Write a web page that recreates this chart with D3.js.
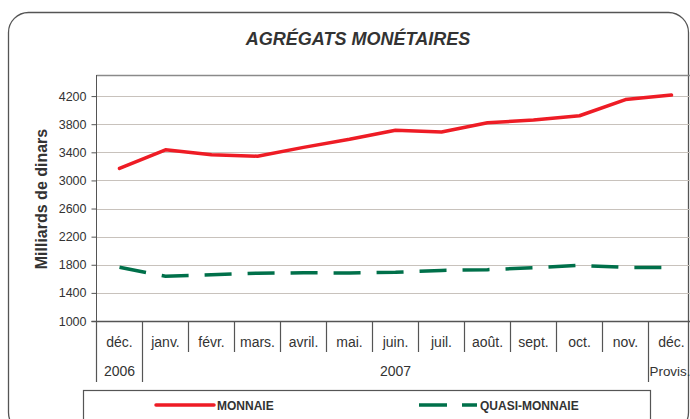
<!DOCTYPE html>
<html>
<head>
<meta charset="utf-8">
<script src="https://cdn.jsdelivr.net/npm/d3@7"></script>
<style>
  body { margin: 0; background: #fff; }
  text { font-family: "Liberation Sans", Arial, sans-serif; }
</style>
</head>
<body>
<div id="chart"></div>
<script>
var months = ["déc.", "janv.", "févr.", "mars.", "avril.", "mai.", "juin.", "juil.", "août.", "sept.", "oct.", "nov.", "déc."];
var years = [
  {label: "2006", from: 0, to: 0},
  {label: "2007", from: 1, to: 11},
  {label: "Provis.", from: 12, to: 12}
];
var monnaie = [3170, 3435, 3365, 3345, 3470, 3585, 3715, 3690, 3820, 3860, 3920, 4150, 4215];
var quasiMonnaie = [1765, 1637, 1657, 1680, 1686, 1684, 1693, 1720, 1730, 1757, 1792, 1762, 1760];
var yTicks = [1000, 1400, 1800, 2200, 2600, 3000, 3400, 3800, 4200];

var width = 690, height = 419;
var svg = d3.select("#chart").append("svg")
    .attr("width", width)
    .attr("height", height);

// rounded frame round the whole chart
svg.append("rect")
    .attr("x", 8.5).attr("y", 12.5)
    .attr("width", 680).attr("height", 420)
    .attr("rx", 20).attr("ry", 20)
    .attr("fill", "none")
    .attr("stroke", "#555")
    .attr("stroke-width", 1.3);

svg.append("text")
    .attr("x", 358).attr("y", 45)
    .attr("text-anchor", "middle")
    .style("font-size", "18px")
    .style("font-weight", "bold")
    .style("font-style", "italic")
    .style("fill", "#333")
    .text("AGRÉGATS MONÉTAIRES");

var plotLeft = 96.5, plotTop = 75, plotBottom = 321;
var x = d3.scaleBand()
    .domain(d3.range(months.length))
    .range([plotLeft, plotLeft + 46 * months.length]);
var y = d3.scaleLinear()
    .domain([1000, 4500])
    .range([plotBottom, plotTop]);

// gridlines
svg.append("g").selectAll("line")
    .data(yTicks.slice(1))
    .enter().append("line")
    .attr("x1", plotLeft).attr("x2", width)
    .attr("y1", function (d) { return Math.round(y(d)) + 0.5; })
    .attr("y2", function (d) { return Math.round(y(d)) + 0.5; })
    .attr("stroke", "#c8c2bc")
    .attr("stroke-width", 1.2);

// plot top border
svg.append("line")
    .attr("x1", plotLeft).attr("x2", width)
    .attr("y1", plotTop + 0.5).attr("y2", plotTop + 0.5)
    .attr("stroke", "#8a8a8a").attr("stroke-width", 1.5);

// y axis
var yAxis = svg.append("g")
    .attr("transform", "translate(" + plotLeft + ",0)")
    .call(d3.axisLeft(y).tickValues(yTicks).tickSize(5).tickPadding(5).tickFormat(d3.format("d")));
yAxis.select(".domain").attr("stroke", "#555").attr("d", "M0," + plotTop + "V" + plotBottom);
yAxis.selectAll(".tick line").attr("stroke", "#555");
yAxis.selectAll(".tick text")
    .style("font-size", "12.5px")
    .style("fill", "#333")
    .style("font-family", "Liberation Sans, Arial, sans-serif");

svg.append("text")
    .attr("transform", "translate(47,199) rotate(-90)")
    .attr("text-anchor", "middle")
    .style("font-size", "16px")
    .style("font-weight", "bold")
    .style("fill", "#333")
    .text("Milliards de dinars");

// x axis line
svg.append("line")
    .attr("x1", plotLeft - 5).attr("x2", width)
    .attr("y1", plotBottom + 0.5).attr("y2", plotBottom + 0.5)
    .attr("stroke", "#555").attr("stroke-width", 1.3);

// month separators, longer where the year changes
var yearEdges = [0, 1, 12];
svg.append("g").selectAll("line")
    .data(d3.range(months.length + 1))
    .enter().append("line")
    .attr("x1", function (i) { return x.range()[0] + i * x.bandwidth(); })
    .attr("x2", function (i) { return x.range()[0] + i * x.bandwidth(); })
    .attr("y1", plotBottom)
    .attr("y2", function (i) { return yearEdges.indexOf(i) >= 0 ? 382 : 352; })
    .attr("stroke", "#555")
    .attr("stroke-width", 1.2);

svg.append("g").selectAll("text")
    .data(months)
    .enter().append("text")
    .attr("x", function (d, i) { return x(i) + x.bandwidth() / 2; })
    .attr("y", 347)
    .attr("text-anchor", "middle")
    .style("font-size", "14px")
    .style("fill", "#333")
    .text(function (d) { return d; });

// year row; the last label sits flush against its separator like the original
svg.append("g").selectAll("text")
    .data(years)
    .enter().append("text")
    .attr("x", function (d) {
        if (d.from === months.length - 1) return x(d.from) + 1;
        return (x(d.from) + x(d.to) + x.bandwidth()) / 2;
    })
    .attr("y", 376)
    .attr("text-anchor", function (d) { return d.from === months.length - 1 ? "start" : "middle"; })
    .style("font-size", function (d) { return d.from === months.length - 1 ? "13.4px" : "14px"; })
    .style("fill", "#333")
    .text(function (d) { return d.label; });

// series
var line = d3.line()
    .x(function (d, i) { return x(i) + x.bandwidth() / 2; })
    .y(function (d) { return y(d); });

svg.append("path")
    .datum(monnaie)
    .attr("d", line)
    .attr("fill", "none")
    .attr("stroke", "#ee1c25")
    .attr("stroke-width", 3.5)
    .attr("stroke-linejoin", "round")
    .attr("stroke-linecap", "round");

svg.append("path")
    .datum(quasiMonnaie)
    .attr("d", line)
    .attr("fill", "none")
    .attr("stroke", "#00704a")
    .attr("stroke-width", 3.5)
    .attr("stroke-dasharray", "27,16");

// legend
svg.append("rect")
    .attr("x", 83.5).attr("y", 390.5)
    .attr("width", 567).attr("height", 60)
    .attr("fill", "#fff")
    .attr("stroke", "#555")
    .attr("stroke-width", 1.2);

svg.append("line")
    .attr("x1", 156).attr("x2", 214)
    .attr("y1", 405).attr("y2", 405)
    .attr("stroke", "#ee1c25").attr("stroke-width", 3.5)
    .attr("stroke-linecap", "round");
svg.append("text")
    .attr("x", 217).attr("y", 409.5)
    .style("font-size", "12px").style("font-weight", "bold").style("fill", "#333")
    .text("MONNAIE");

svg.append("line")
    .attr("x1", 419).attr("x2", 477)
    .attr("y1", 405).attr("y2", 405)
    .attr("stroke", "#00704a").attr("stroke-width", 3.5)
    .attr("stroke-dasharray", "28,15");
svg.append("text")
    .attr("x", 480).attr("y", 409.5)
    .style("font-size", "12px").style("font-weight", "bold").style("fill", "#333")
    .text("QUASI-MONNAIE");
</script>
</body>
</html>
